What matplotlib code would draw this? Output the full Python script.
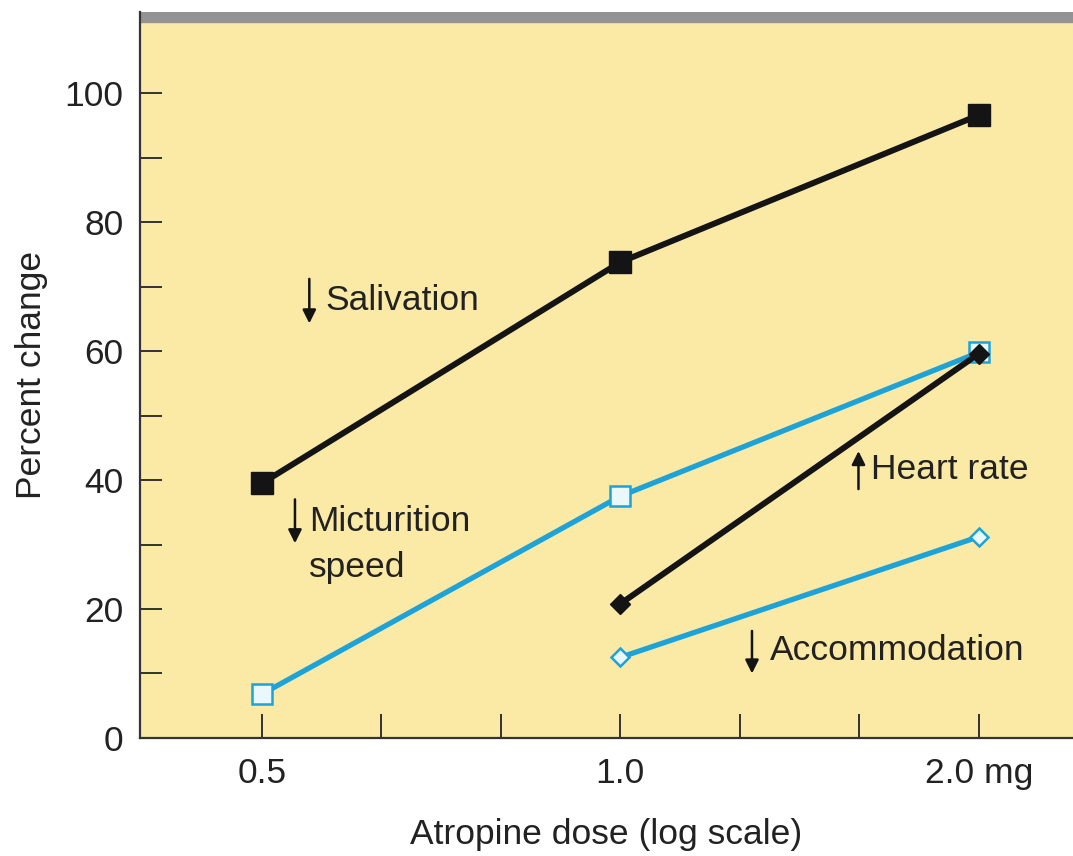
import numpy as np
import matplotlib.pyplot as plt
from matplotlib.ticker import FixedLocator, NullFormatter

plt.rcParams['font.family'] = ['Liberation Sans', 'DejaVu Sans']

# Data
dose_all = [0.5, 1.0, 2.0]
dose_hi = [1.0, 2.0]
salivation = [39.5, 73.8, 96.6]
micturition = [6.8, 37.5, 59.8]
heart_rate = [20.8, 59.6]
accommodation = [12.5, 31.2]
x_ticks = [0.5, 1.0, 2.0]
x_labels = ['0.5', '1.0', '2.0 mg']
y_ticks = [0, 20, 40, 60, 80, 100]

yellow = '#fbe9a6'
blue = '#1ea3d8'
black = '#141414'
text_col = '#222222'

fig = plt.figure(figsize=(10.73, 8.56), dpi=100)
ax = fig.add_axes([0.1305, 0.1379, 0.8695, 0.8481])
ax.set_facecolor(yellow)
ax.set_xscale('log')
ax.set_xlim(0.395, 2.40)
ax.set_ylim(0, 112.6)

# grey band along the top
ax.axhspan(111.0, 112.6, color='#939393', zorder=1)

# lines
ax.plot(dose_all, micturition, color=blue, lw=3.8, marker='s', ms=14,
        mfc='#eaf8fc', mec=blue, mew=1.8, zorder=3)
ax.plot(dose_hi, accommodation, color=blue, lw=3.8, marker='D', ms=9,
        mfc='#eaf8fc', mec=blue, mew=1.8, zorder=3)
ax.plot(dose_all, salivation, color=black, lw=4.3, marker='s', ms=16,
        mfc=black, mec=black, zorder=4)
ax.plot(dose_hi, heart_rate, color=black, lw=4.3, marker='D', ms=10,
        mfc=black, mec=black, zorder=5)

# annotations with arrows
arrow = dict(arrowstyle='-|>', color=black, lw=1.8, mutation_scale=20,
             shrinkA=0, shrinkB=0)
fs = 25.5
ax.annotate('', xy=(0.548, 64.3), xytext=(0.548, 71.2), arrowprops=arrow)
ax.text(0.565, 67.9, 'Salivation', fontsize=fs, color=text_col, va='center')

ax.annotate('', xy=(0.533, 30.2), xytext=(0.533, 37.0), arrowprops=arrow)
ax.text(0.548, 33.5, 'Micturition', fontsize=fs, color=text_col, va='center')
ax.text(0.548, 26.4, 'speed', fontsize=fs, color=text_col, va='center')

ax.annotate('', xy=(1.585, 44.5), xytext=(1.585, 38.6), arrowprops=arrow)
ax.text(1.625, 41.6, 'Heart rate', fontsize=fs, color=text_col, va='center')

ax.annotate('', xy=(1.29, 10.0), xytext=(1.29, 16.6), arrowprops=arrow)
ax.text(1.335, 13.6, 'Accommodation', fontsize=fs, color=text_col, va='center')

# axes styling
for s in ['top', 'right']:
    ax.spines[s].set_visible(False)
for s in ['left', 'bottom']:
    ax.spines[s].set_color('#333333')
    ax.spines[s].set_linewidth(1.6)

ax.xaxis.set_major_locator(FixedLocator(x_ticks))
ax.set_xticklabels(x_labels)
ax.xaxis.set_minor_locator(FixedLocator([0.5 * 2 ** (k / 3) for k in [1, 2, 4, 5]]))
ax.xaxis.set_minor_formatter(NullFormatter())
ax.set_yticks(y_ticks)
ax.set_yticks([10, 30, 50, 70, 90], minor=True)

ax.tick_params(axis='x', which='both', direction='in', length=17, width=1.4,
               color='#333333', labelsize=fs, labelcolor=text_col, pad=14)
ax.tick_params(axis='y', which='both', direction='in', length=16, width=1.4,
               color='#333333', labelsize=fs, labelcolor=text_col, pad=12)

ax.set_xlabel('Atropine dose (log scale)', fontsize=fs, color=text_col, labelpad=20)
ax.set_ylabel('Percent change', fontsize=fs, color=text_col, labelpad=12)

fig.savefig('out.png', dpi=100)
